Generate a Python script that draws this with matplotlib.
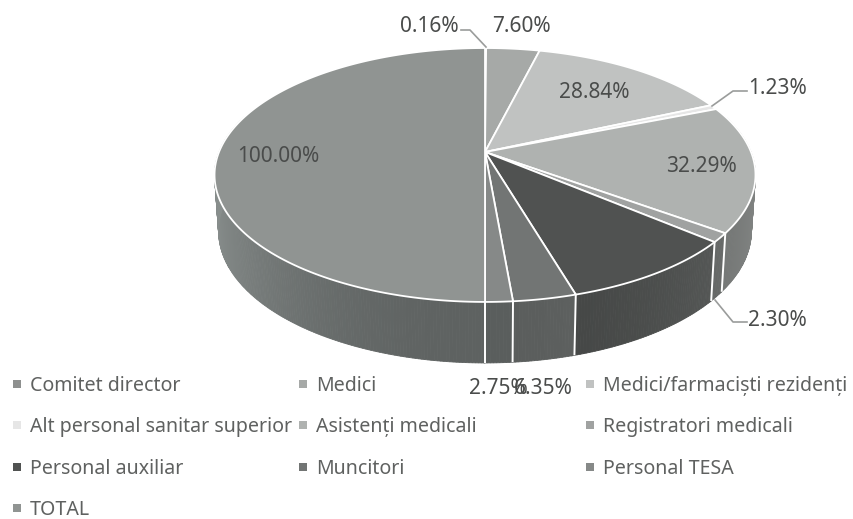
import numpy as np
import matplotlib
matplotlib.use("Agg")
import matplotlib.pyplot as plt

plt.rcParams["font.family"] = ["Noto Sans", "DejaVu Sans"]

# Data
categories = ["Comitet director", "Medici", "Medici/farmaciști rezidenți",
              "Alt personal sanitar superior", "Asistenți medicali", "Registratori medicali",
              "Personal auxiliar", "Muncitori", "Personal TESA", "TOTAL"]
values = [0.16, 7.60, 28.84, 1.23, 32.29, 2.30, 18.48, 6.35, 2.75, 100.00]
top_colors = ["#8e908f", "#a6a9a7", "#c0c2c1", "#e6e6e6", "#afb2b0",
              "#a0a2a1", "#505251", "#727574", "#868988", "#909492"]
side_colors = ["#5e6261", "#5e6261", "#5e6261", "#5e6261", "#5a5c5b",
               "#505251", "#434544", "#5a5d5c", "#5a5e5d", "#5e6261"]

# Pie geometry in pixels, with the perspective of the 3D chart
cx, cy = 485, 152
a, b, k = 266, 122.8, 0.181
text_color = "#4a4c4b"


def project(theta):
    u = np.sin(theta)
    v = np.cos(theta)
    d = 1 + k * v
    return cx + a * u / d, cy - b * v / d


def drop(x, y, theta):
    # bottom rim of the pie
    return cx + 0.985 * (x - cx), y + 55 - 6 * np.cos(theta)


def shade(color, u):
    rgb = np.array(matplotlib.colors.to_rgb(color))
    return tuple(np.clip(rgb * (1 + 0.45 * u ** 2), 0, 1))


fig = plt.figure(figsize=(8.54, 5.19), dpi=100)
ax = fig.add_axes([0, 0, 1, 1])
ax.set_xlim(0, 854)
ax.set_ylim(519, 0)
ax.axis("off")

edges = np.cumsum([0] + values) / sum(values) * 2 * np.pi

# Sides first, the top faces cover the back part
for i in range(len(values)):
    steps = np.arange(edges[i], edges[i + 1] + 0.01, 0.01)
    for t0, t1 in zip(steps[:-1], steps[1:]):
        if np.cos(t0) > 0.3:
            continue
        x0, y0 = project(t0)
        x1, y1 = project(t1)
        x2, y2 = drop(x1, y1, t1)
        x3, y3 = drop(x0, y0, t0)
        c = shade(side_colors[i], np.sin(t0))
        ax.fill([x0, x1, x2, x3], [y0, y1, y2, y3], color=c, lw=0.6)

# White dividers on the side
for t in edges[1:-1]:
    if np.cos(t) < -0.1:
        x0, y0 = project(t)
        x1, y1 = drop(x0, y0, t)
        ax.plot([x0, x1], [y0, y1], color="white", lw=1.4, solid_capstyle="butt")

# Top faces
for i in range(len(values)):
    t = np.linspace(edges[i], edges[i + 1], 200)
    x, y = project(t)
    ax.fill(np.r_[cx, x], np.r_[cy, y], facecolor=top_colors[i],
            edgecolor="white", lw=1.3, joinstyle="round")

# Data labels, the one on the dark slice cannot be seen in the picture
value_labels = [f"{v:.2f}%" for v in values]
label_x = [429, 521, 594, 778, 701, 777, None, 543, 498, 278]
label_y = [27, 27, 93, 89, 167, 320, None, 389, 389, 156]
for i in range(len(values)):
    if label_x[i] is None:
        continue
    ax.text(label_x[i], label_y[i], value_labels[i], fontsize=15, color=text_color,
            ha="center", va="center")

# Leader lines
ax.plot([461, 470, 486], [30, 30, 47], color="#9a9c9b", lw=1.2)
ax.plot([747, 733, 712], [91, 91, 106], color="#9a9c9b", lw=1.2)
ax.plot([715, 733, 747], [300, 322, 322], color="#9a9c9b", lw=1.2)

# Legend
legend_x = [17, 303, 590]
legend_y = [384, 425, 467, 508]
for i, name in enumerate(categories):
    row, col = divmod(i, 3)
    ax.plot(legend_x[col], legend_y[row], marker="s", ms=6, color=top_colors[i], mew=0)
    ax.text(legend_x[col] + 13, legend_y[row] + 2, name, fontsize=14.1, color="#5f6160",
            ha="left", va="center")

fig.savefig("out.png", dpi=100)
plt.close(fig)
